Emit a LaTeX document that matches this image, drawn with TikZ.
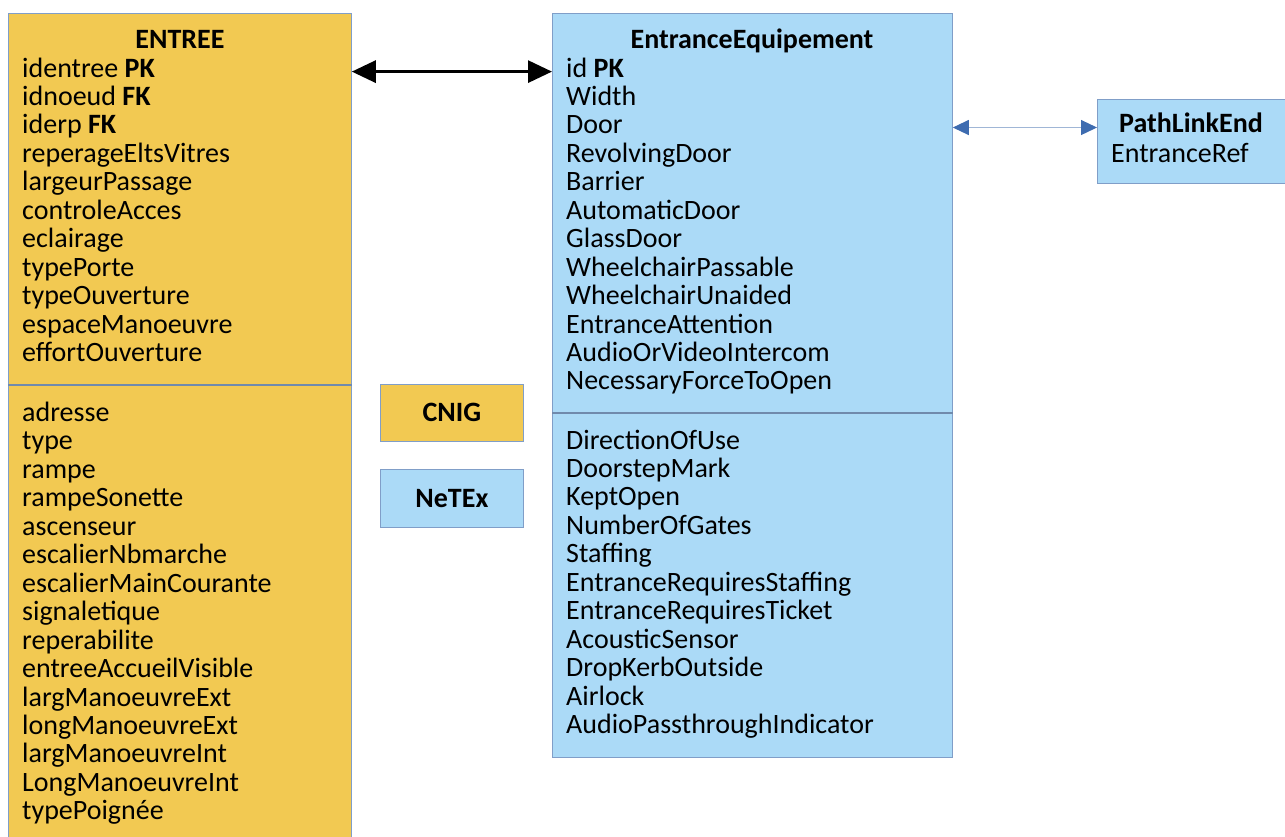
\documentclass[tikz,border=0pt]{standalone}
\usepackage{fontspec}
\setmainfont{Carlito}
\usetikzlibrary{positioning,arrows.meta}
\definecolor{cnigyellow}{RGB}{242,201,82}
\definecolor{netexblue}{RGB}{171,218,247}
\definecolor{boxline}{RGB}{128,158,200}
\definecolor{divline}{RGB}{112,138,172}
\definecolor{linkline}{RGB}{160,182,214}
\definecolor{linkblue}{RGB}{62,108,176}
\def\rowsep{28.45}

\begin{document}
\begin{tikzpicture}[x=1pt,y=-1pt,font=\fontsize{28}{28.45}\selectfont]
    \tikzstyle{table}=[rectangle,draw=boxline,line width=0.8pt,anchor=north west,inner sep=0pt]
    \tikzstyle{cnig table}=[table,fill=cnigyellow]
    \tikzstyle{netex table}=[table,fill=netexblue]
    \tikzstyle{title}=[font=\fontsize{28}{28.45}\selectfont\bfseries,anchor=base,inner sep=0pt]
    \tikzstyle{attr}=[anchor=base west,inner sep=0pt]
    \tikzstyle{divider}=[draw=divline,line width=1.4pt]

    \useasboundingbox (0,0) rectangle (1285,836);

    % the tables
    \node[cnig table, minimum width=343pt, minimum height=830pt] (entree) at (8,13) {};
    \node[netex table, minimum width=400pt, minimum height=744pt] (equip) at (552,13) {};
    \node[netex table, minimum width=192pt, minimum height=84pt] (plink) at (1097,99) {};

    % legend
    \node[cnig table, minimum width=143pt, minimum height=57pt, font=\fontsize{28}{28.45}\selectfont\bfseries] (cnig) at (380,384) {CNIG};
    \node[netex table, minimum width=143pt, minimum height=58pt, font=\fontsize{28}{28.45}\selectfont\bfseries] (netex) at (380,469) {NeTEx};

    \draw[divider] (entree.west |- 0,385) -- (entree.east |- 0,385);
    \draw[divider] (equip.west |- 0,413) -- (equip.east |- 0,413);

    \node[title] (entree-title) at (180,48) {ENTREE};
    \node[title] (equip-title) at (752,48) {EntranceEquipement};
    \node[title] (plink-title) at (1191,132) {PathLinkEnd};
    \node[attr] (p-0) at (1111,162) {EntranceRef};

    \foreach \txt [count=\i from 0] in {identree \textbf{PK},idnoeud \textbf{FK},iderp \textbf{FK},
        reperageEltsVitres,largeurPassage,controleAcces,eclairage,typePorte,typeOuverture,
        espaceManoeuvre,effortOuverture}
        \node[attr] (e-\i) at (22,{77+\rowsep*\i}) {\txt};

    \foreach \txt [count=\i from 0] in {adresse,type,rampe,rampeSonette,ascenseur,escalierNbmarche,
        escalierMainCourante,signaletique,reperabilite,entreeAccueilVisible,largManoeuvreExt,
        longManoeuvreExt,largManoeuvreInt,LongManoeuvreInt,typePoignée}
        \node[attr] (g-\i) at (22,{421.5+\rowsep*\i}) {\txt};

    \foreach \txt [count=\i from 0] in {id \textbf{PK},Width,Door,RevolvingDoor,Barrier,AutomaticDoor,
        GlassDoor,WheelchairPassable,WheelchairUnaided,EntranceAttention,AudioOrVideoIntercom,
        NecessaryForceToOpen}
        \node[attr] (f-\i) at (566,{77+\rowsep*\i}) {\txt};

    \foreach \txt [count=\i from 0] in {DirectionOfUse,DoorstepMark,KeptOpen,NumberOfGates,Staffing,
        EntranceRequiresStaffing,EntranceRequiresTicket,AcousticSensor,DropKerbOutside,Airlock,
        AudioPassthroughIndicator}
        \node[attr] (h-\i) at (566,{449+\rowsep*\i}) {\txt};

    % links between the tables
    \draw[{Triangle[length=24pt,width=22pt]}-{Triangle[length=24pt,width=22pt]}, line width=3pt]
        ([yshift=3pt]entree.east |- e-0.mid) -- ([yshift=3pt]equip.west |- f-0.mid);
    \draw[{Triangle[length=16pt,width=15pt,color=linkblue]}-{Triangle[length=16pt,width=15pt,color=linkblue]},
        draw=linkline, line width=1.2pt]
        ([yshift=4pt]equip.east |- f-2.mid) -- ([yshift=4pt]plink.west |- f-2.mid);
\end{tikzpicture}
\end{document}
